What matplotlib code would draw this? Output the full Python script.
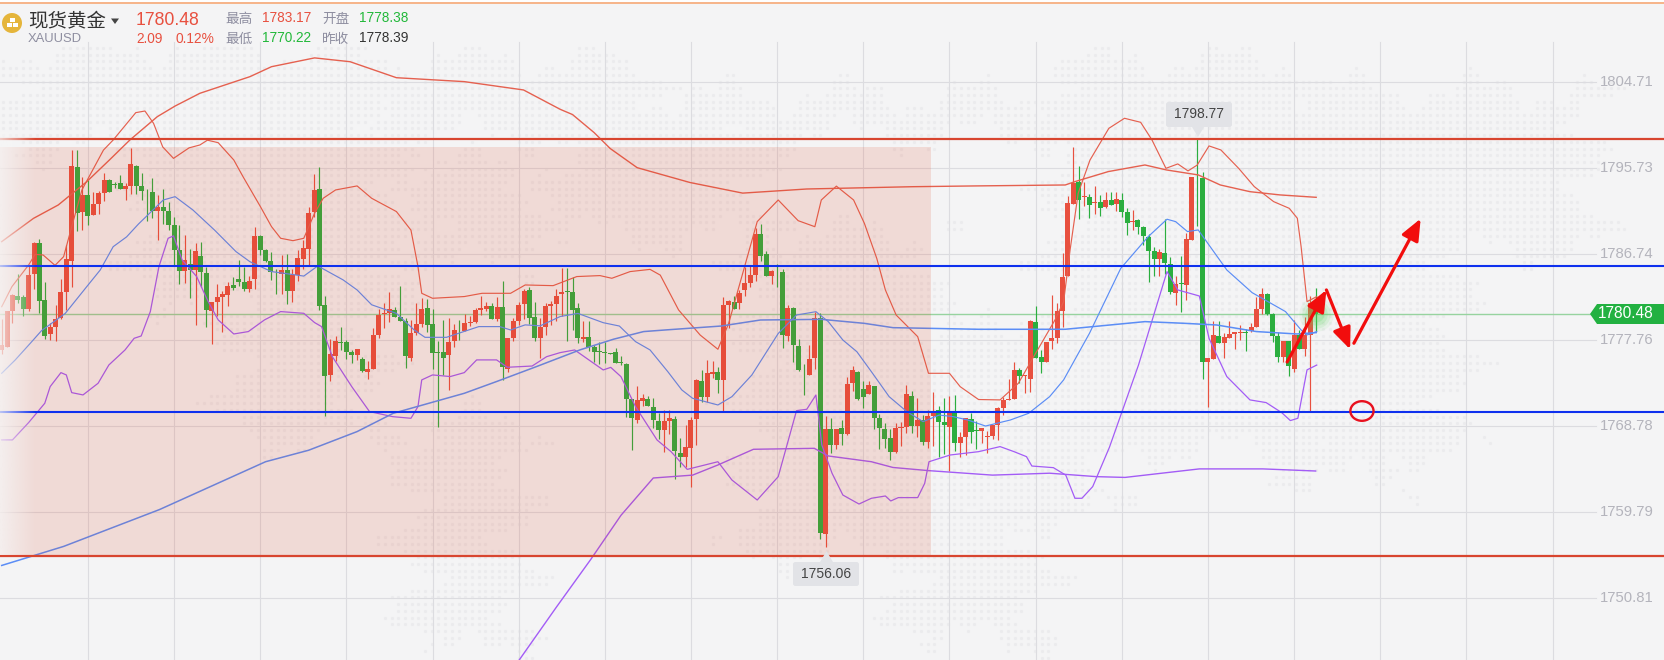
import numpy as np
import matplotlib
matplotlib.use('Agg')
import matplotlib.pyplot as plt
from matplotlib.patches import Ellipse, FancyArrowPatch, FancyBboxPatch, Polygon, Rectangle, Circle
from matplotlib.transforms import blended_transform_factory

plt.rcParams['font.family'] = ['Liberation Sans', 'Noto Sans CJK SC', 'DejaVu Sans']

# candles
opens = [
    1776.68,1777.0,1780.75,1782.28,1782.2,1780.96,1784.65,1787.86,1781.9,1778.35,
    1779.08,1780.0,1782.74,1786.0,1795.8,1791.1,1792.87,1790.8,1791.9,1793.08,
    1794.44,1794.0,1794.13,1793.5,1793.8,1795.9,1793.8,1793.3,1793.2,1791.2,
    1791.6,1791.2,1789.74,1787.13,1784.93,1785.66,1785.04,1786.5,1784.72,1780.75,
    1781.69,1782.2,1782.42,1783.47,1784.1,1783.78,1783.05,1784.1,1788.59,1787.13,
    1785.98,1784.87,1784.62,1785.04,1782.84,1784.5,1786.19,1787.23,1791.1,1793.5,
    1781.38,1774.06,1776.06,1777.5,1777.52,1776.48,1776.16,1775.75,1774.39,1774.7,
    1778.25,1780.48,1780.55,1780.87,1780.13,1779.72,1775.85,1778.46,1779.4,1781.07,
    1779.4,1776.48,1776.48,1776.16,1777.63,1778.78,1778.67,1779.54,1779.61,1780.87,
    1780.97,1781.28,1779.93,1781.18,1774.7,1777.94,1779.72,1781.49,1782.96,1780.13,
    1777.94,1779.09,1781.28,1781.49,1782.54,1782.85,1782.75,1781.07,1777.84,1778.04,
    1777.0,1776.58,1776.48,1776.33,1776.48,1775.4,1775.22,1771.57,1769.37,1771.36,
    1771.57,1770.73,1769.27,1768.33,1769.27,1769.48,1765.92,1765.5,1766.45,1769.48,
    1773.45,1771.77,1774.18,1774.39,1773.55,1781.39,1781.7,1781.6,1782.96,1783.69,
    1784.52,1788.81,1786.72,1784.42,1785.08,1784.84,1778.15,1781.07,1777.1,1774.53,
    1774.07,1775.85,1780.03,1757.45,1768.43,1766.75,1768.53,1767.9,1773.23,1774.38,
    1772.6,1772.08,1772.92,1769.57,1768.43,1767.48,1766.02,1768.53,1768.63,1771.87,
    1768.74,1769.37,1767.07,1769.78,1770.41,1769.16,1768.63,1770.1,1766.96,1767.59,
    1769.47,1768.32,1768.22,1767.62,1767.69,1768.84,1770.62,1771.49,1771.56,1774.59,
    1774.0,1773.65,1779.61,1775.95,1775.43,1777.62,1777.94,1780.76,1784.41,1791.94,
    1794.24,1792.67,1792.67,1792.0,1792.15,1791.62,1792.36,1791.94,1792.36,1791.1,
    1790.06,1790.27,1789.53,1788.49,1787.03,1786.19,1786.82,1785.67,1782.64,1783.68,
    1783.47,1788.18,1794.69,1794.65,1775.43,1775.74,1778.15,1777.41,1777.94,1778.39,
    1778.49,1778.56,1778.67,1779.08,1780.97,1782.53,1780.44,1778.15,1775.95,1777.62,
    1774.7,1778.25,1776.79,1778.25,1781.28]
highs = [
    1779.9,1780.75,1782.5,1784.6,1782.4,1785.6,1788.0,1788.3,1783.8,1779.5,
    1781.4,1784.1,1787.65,1797.6,1797.6,1794.75,1794.4,1793.2,1793.3,1795.2,
    1794.5,1794.27,1794.96,1794.13,1797.8,1796.0,1795.2,1793.5,1794.65,1792.9,
    1793.5,1792.14,1790.57,1789.74,1788.69,1787.23,1787.86,1787.96,1785.4,1781.69,
    1783.57,1782.84,1783.78,1784.3,1786.08,1785.3,1784.4,1789.53,1788.69,1787.23,
    1786.88,1785.14,1786.6,1786.71,1785.14,1787.13,1788.17,1791.62,1795.07,1795.8,
    1782.3,1777.83,1778.15,1779.09,1777.73,1776.69,1776.79,1775.95,1775.54,1778.98,
    1780.97,1781.6,1782.75,1781.18,1783.37,1780.03,1779.8,1781.6,1782.12,1782.0,
    1780.97,1777.63,1779.82,1780.03,1779.4,1779.82,1780.45,1780.24,1781.07,1782.33,
    1781.7,1781.6,1782.22,1783.9,1777.94,1780.03,1781.7,1783.06,1783.27,1781.7,
    1780.03,1781.6,1781.8,1783.06,1785.25,1785.25,1784.31,1781.6,1779.72,1779.72,
    1777.2,1777.52,1777.52,1776.33,1776.9,1776.06,1775.33,1771.57,1772.92,1772.09,
    1771.88,1771.67,1770.1,1770.4,1770.4,1769.79,1767.5,1768.85,1769.69,1773.66,
    1774.6,1775.64,1775.54,1774.91,1782.23,1781.91,1782.33,1782.96,1785.36,1785.46,
    1789.43,1789.85,1787.03,1785.05,1785.67,1785.15,1781.39,1781.18,1777.83,1775.22,
    1777.21,1780.66,1780.5,1769.78,1769.57,1768.43,1769.37,1773.86,1775.0,1774.5,
    1773.44,1773.44,1772.92,1770.0,1769.05,1768.43,1769.05,1769.16,1773.02,1772.4,
    1771.66,1769.89,1770.4,1772.32,1770.83,1771.66,1771.87,1771.98,1768.11,1769.57,
    1770.1,1769.26,1768.53,1768.22,1768.84,1770.76,1771.8,1773.65,1775.43,1774.8,
    1774.1,1779.82,1781.28,1776.68,1777.52,1782.43,1781.56,1786.82,1792.77,1797.86,
    1795.91,1794.24,1792.98,1793.82,1792.88,1793.19,1793.19,1793.19,1793.09,1791.52,
    1791.31,1790.37,1789.64,1788.8,1787.48,1787.23,1790.37,1786.36,1784.41,1786.5,
    1788.91,1794.76,1798.77,1795.28,1775.85,1779.71,1779.71,1778.46,1779.71,1778.56,
    1779.29,1778.88,1779.5,1782.22,1783.16,1782.64,1780.55,1778.56,1777.62,1777.62,
    1779.82,1778.77,1780.16,1782.36,1783.17]
lows = [
    1776.3,1777.0,1779.5,1781.6,1780.2,1780.7,1783.1,1780.5,1777.8,1777.7,
    1777.6,1779.9,1780.9,1783.3,1789.1,1789.2,1789.7,1790.8,1790.9,1792.25,
    1793.2,1793.57,1793.5,1792.35,1793.0,1793.0,1792.35,1790.2,1790.5,1788.2,
    1789.85,1789.2,1785.56,1783.57,1783.68,1782.1,1779.29,1783.26,1779.1,1777.3,
    1780.23,1778.56,1781.27,1782.95,1783.36,1782.84,1782.74,1783.05,1786.6,1785.87,
    1783.99,1782.53,1782.53,1781.48,1781.69,1783.89,1785.14,1785.45,1790.57,1780.86,
    1769.78,1773.44,1775.54,1776.69,1775.75,1775.33,1775.64,1774.39,1773.66,1774.7,
    1777.94,1778.98,1779.61,1780.13,1779.72,1774.8,1775.54,1778.25,1779.09,1778.57,
    1774.7,1768.67,1774.07,1772.5,1777.0,1777.73,1778.67,1779.2,1779.51,1780.34,
    1780.76,1779.93,1779.72,1773.55,1774.39,1777.63,1779.3,1779.93,1779.4,1777.63,
    1775.85,1778.25,1779.3,1779.72,1780.24,1777.63,1778.78,1777.42,1777.52,1776.58,
    1775.43,1775.22,1775.33,1776.26,1775.33,1775.12,1769.68,1766.24,1769.06,1770.83,
    1770.83,1768.53,1767.4,1766.06,1767.91,1763.2,1764.5,1764.5,1762.4,1766.76,
    1771.25,1771.25,1773.76,1772.19,1770.31,1778.98,1780.97,1780.97,1782.33,1783.27,
    1783.9,1785.99,1784.42,1783.58,1783.27,1776.9,1777.63,1775.43,1774.49,1771.98,
    1774.07,1774.7,1756.93,1756.06,1765.92,1766.34,1766.75,1767.8,1772.4,1771.46,
    1770.62,1772.08,1768.43,1766.34,1766.44,1765.19,1765.92,1766.65,1768.0,1768.0,
    1767.59,1766.75,1766.44,1766.6,1765.46,1765.81,1764.04,1766.13,1765.5,1765.71,
    1766.96,1766.3,1766.93,1765.88,1767.35,1767.28,1769.9,1771.49,1771.56,1773.2,
    1772.22,1772.33,1775.85,1774.31,1775.43,1776.79,1777.38,1779.12,1784.41,1791.94,
    1790.37,1791.73,1790.47,1790.89,1790.68,1791.52,1791.83,1791.2,1790.58,1788.7,
    1789.22,1788.8,1787.65,1783.82,1784.41,1784.41,1784.62,1782.53,1781.38,1780.65,
    1781.9,1788.18,1789.64,1773.65,1770.76,1775.74,1777.41,1775.85,1777.94,1776.79,
    1777.73,1776.58,1778.56,1779.08,1780.44,1780.34,1777.52,1775.43,1775.43,1773.96,
    1774.38,1776.79,1776.05,1770.31,1778.6]
closes = [
    1777.2,1780.75,1782.4,1781.9,1780.96,1784.5,1787.86,1781.8,1778.1,1779.08,
    1779.9,1782.74,1786.2,1795.9,1791.0,1792.87,1790.7,1791.9,1793.08,1794.44,
    1793.2,1793.95,1793.5,1793.8,1796.1,1793.8,1793.3,1793.25,1791.2,1791.6,
    1791.2,1789.74,1787.13,1784.93,1786.08,1785.04,1787.02,1784.83,1780.86,1781.69,
    1782.2,1782.53,1783.36,1783.15,1783.78,1783.05,1783.89,1788.59,1787.13,1785.98,
    1784.83,1784.8,1785.04,1782.84,1784.5,1786.29,1787.34,1790.99,1793.4,1781.27,
    1773.96,1776.26,1777.63,1777.45,1776.48,1776.16,1776.79,1774.49,1774.7,1778.25,
    1780.34,1780.59,1780.97,1780.13,1779.72,1776.06,1778.46,1779.4,1780.97,1779.3,
    1776.37,1776.41,1775.85,1777.52,1778.78,1778.72,1779.51,1779.61,1780.87,1781.07,
    1781.28,1779.93,1781.18,1774.91,1777.94,1779.72,1781.39,1782.85,1780.03,1777.94,
    1779.09,1781.28,1781.49,1782.33,1782.75,1782.78,1780.87,1777.94,1778.04,1777.0,
    1776.48,1776.51,1776.41,1776.26,1775.33,1775.33,1771.57,1769.58,1771.46,1771.67,
    1770.83,1769.37,1768.33,1769.27,1769.58,1766.13,1765.5,1766.55,1769.37,1773.55,
    1771.77,1774.28,1774.39,1773.55,1781.39,1781.81,1780.97,1782.64,1783.69,1784.52,
    1788.81,1786.51,1784.42,1784.94,1785.01,1778.25,1781.07,1777.21,1774.6,1774.46,
    1775.75,1780.03,1757.56,1768.43,1766.75,1768.43,1767.9,1773.13,1774.59,1771.56,
    1771.77,1773.02,1769.57,1768.53,1767.38,1766.02,1768.53,1768.63,1772.08,1768.74,
    1769.37,1767.07,1769.78,1770.17,1769.16,1768.84,1770.1,1766.96,1767.59,1769.57,
    1768.11,1768.25,1768.53,1767.73,1768.84,1770.62,1771.46,1771.6,1774.59,1773.96,
    1774.1,1779.71,1775.85,1775.43,1777.52,1777.94,1780.76,1784.31,1792.04,1794.13,
    1792.36,1792.77,1791.83,1792.11,1791.52,1792.36,1791.83,1792.46,1791.1,1789.95,
    1790.16,1789.53,1788.59,1787.03,1786.19,1786.92,1785.77,1782.74,1783.58,1783.61,
    1788.28,1794.76,1794.6,1775.43,1775.85,1778.25,1777.41,1778.04,1778.35,1778.56,
    1778.56,1778.46,1779.08,1780.97,1782.53,1780.44,1778.15,1775.95,1777.62,1775.01,
    1778.25,1776.79,1778.25,1781.59,1780.48]

# fast bands (index of the candle, price)
fu_idx = [0,1.9,5,6.2,7.7,9.9,11.5,13,14.9,18.9,20.7,24.9,26.6,28.2,29.9,31.9,34.8,36.8,38.2,40.2,43.1,44.8,48.1,50.1,51.8,54.1,56.1,58.1,59.7,62,66,68.7,73.3,76,77.3,78,80,85.9,89.2,94.5,97.2,102.4,106.8,111.1,113.3,116.7,120.4,122.3,125.7,129.7,133,135,140.3,144.2,147.9,151,152.2,155,158.2,160.2,162.5,164.1,166.1,170.1,172.1,176,178,181.4,185.4,188.8,192,195.6,197.2,198.4,199.9,202.1,205.6,208.5,211.5,213.6,216.2,218.4,220.3,222,224.2,226.4,229.7,232.6,236.2,239.1,240.6,241.3,242.4,244.2]
fu_val = [1781.2,1783.3,1785.56,1786.67,1786.6,1785.52,1786.43,1789.56,1793.4,1797.57,1798.62,1801.48,1801.65,1800.36,1797.9,1796.7,1797.8,1798.1,1798.6,1798.34,1796.53,1794.8,1791.6,1789.57,1788.35,1788.1,1788.35,1790.96,1792.53,1793.4,1793.82,1792.53,1791.14,1789.2,1785.4,1782.6,1782.08,1782.26,1782.6,1782.6,1783.47,1783.4,1784.35,1784.45,1784.17,1784.87,1785.1,1784.5,1780.86,1778.24,1776.75,1779.46,1790.09,1792.35,1790.19,1789.56,1792.35,1793.8,1792.35,1789.91,1786.25,1782.95,1780.33,1778.07,1774.24,1774.24,1772.84,1771.5,1771.46,1773.2,1776.33,1779.82,1781.73,1787.13,1793.05,1796.53,1799.84,1800.89,1800.47,1798.63,1795.66,1796.12,1795.39,1796.0,1798.0,1797.58,1795.66,1793.75,1792.18,1791.48,1790.44,1787.48,1781.73,1782.25]
fm_idx = [0,2.5,5.3,7.4,11.8,15.8,18.3,20.7,23.2,25.4,30,32.2,35.5,39.5,43.5,46.1,50.1,56.1,58.7,63.4,66,68.7,73.3,76.6,78.6,82.6,88.6,92.5,94.5,97.2,100,103.7,107,111.7,114.7,117.7,120.4,123.7,126.3,128.3,133,135.6,139.3,144.2,147.6,151.2,153.5,156.2,158.8,161.5,164.8,168.1,171.1,174.1,176.7,179.4,182.7,187.3,190.7,194.6,197.2,202,207.8,212.9,216.4,218,220.2,222.2,227.5,232.2,238.4,241.3,242.4,244.2]
fm_val = [1774.24,1775.63,1777.37,1778.7,1780.5,1783.3,1785.04,1787.47,1788.5,1789.84,1792.35,1792.7,1791.31,1789.22,1786.96,1785.9,1784.87,1784.4,1785.46,1784,1782.95,1781.4,1780.5,1778.77,1778,1778,1779.12,1779.12,1778.77,1779.3,1779.2,1780.17,1780.5,1779.53,1779.18,1777.55,1776.68,1774.41,1772.5,1771.63,1770.93,1771.8,1774.06,1778.4,1780.33,1780.68,1779.64,1777.72,1776.5,1774.41,1771.8,1770.23,1769.19,1769.88,1769.71,1769.36,1768.73,1769.36,1770.06,1771.8,1773.55,1778.42,1785.2,1788.52,1790.34,1790.09,1789.05,1789.22,1785.04,1782.67,1780.69,1778.77,1778.25,1778.6]
fl_idx = [0,2,5,8,9,11,12,13,15.1,17.9,19.9,22.9,24.6,25.9,27.6,29.2,30.9,31.9,33.5,36.2,38.2,40.2,43.1,45.8,48.8,51.8,56.1,58.1,59.4,61.4,65,68.3,72.6,76,77.3,78,80,83.3,85.9,88.2,91.9,93.9,98.5,101.2,103.7,106.4,111.7,113.1,115,117.7,121.7,124.3,127.3,133,135.6,140.3,144.2,147.6,149.5,151.2,152.3,154.2,156.2,159.2,161.5,164.1,165.1,166.5,170.1,171.4,172.2,176.1,181.4,185.4,188,190.3,191.3,195.3,197.6,199.3,200.6,202.6,205.7,211.1,216.4,218.4,222.4,224.2,227.5,231.8,234.8,237.7,239.3,240.7,242.4,244.2]
fl_val = [1767.28,1767.28,1769.09,1771.11,1772.85,1774.31,1774.07,1772.22,1771.98,1773.2,1775.11,1776.68,1777.9,1778.14,1780.69,1785.39,1788.35,1788.6,1786.09,1784.35,1781.9,1779.82,1778.35,1778.6,1779.82,1780.69,1780.51,1779.54,1779.12,1775.98,1772.85,1770.24,1769.71,1769.54,1770.76,1773.55,1774.07,1773.9,1774.31,1775.64,1775.64,1774.87,1775,1775.98,1776.4,1776.68,1774.59,1774.86,1773.89,1770.76,1767.27,1766.05,1764.2,1765,1763.09,1761,1763.44,1770.34,1770.48,1771.97,1766.75,1763.79,1761.52,1760.58,1761.18,1761.42,1760.9,1761.25,1761.25,1762.74,1765,1765.7,1766.05,1766.58,1766.05,1765.53,1764.55,1764.38,1763.6,1761.18,1761.18,1762.4,1766.5,1775.1,1784.87,1782.95,1782.32,1777.9,1773.9,1771.46,1771.18,1770.13,1769.3,1769.54,1774.6,1775.1]

# slow bands
su_idx = [0,5.9,10.5,15.8,20,23.8,28.9,32.2,36.8,46.1,50.1,58.1,64.7,73.3,85.9,96.9,103.7,106,110,113,118,127.8,137.6,149.5,169.2,180.7,197.5,199.3,205.5,212.3,216.3,222.2,226.3,231.8,237.4,244.1]
su_val = [1788.0,1790.43,1791.83,1794.27,1796.53,1798.62,1801.06,1802.17,1803.5,1805.24,1806.28,1807.2,1806.8,1805.13,1804.72,1803.85,1801.83,1801.28,1799.4,1797.73,1795.73,1794.18,1793.07,1793.5,1793.74,1793.82,1793.92,1794.27,1795.32,1796.01,1795.49,1794.97,1793.92,1793.22,1792.88,1792.63]
sm_idx = [0,11.5,29.3,49,57,66,72.7,85.9,91.9,99.3,107.4,113.6,119.2,123.5,133.6,140.9,152.2,160.2,165.5,181.4,197.5,212.3,219.4,225.6,233,240.5,244.1]
sm_val = [1754.16,1756.15,1760.0,1765.0,1766.2,1768.15,1770.06,1772.15,1773.38,1774.94,1776.69,1777.8,1778.6,1778.78,1779.18,1779.81,1779.88,1779.46,1779.01,1778.84,1778.84,1779.64,1779.47,1779.29,1778.6,1778.35,1778.49]
sl_idx = [96,103,109.4,115,121,128.3,133,139.6,150.9,153.5,161.5,165.5,172.1,184,194.6,203.3,208.6,222.4,234.2,244]
sl_val = [1744.2,1749.8,1754.8,1759.4,1763.3,1763.6,1764.66,1766.3,1766.4,1765.6,1765,1764.4,1764.07,1763.6,1763.8,1763.44,1763.36,1764.25,1764.25,1764.03]

# hand drawn levels and arrows
red_levels = [1798.73, 1755.1]
blue_levels = [1785.45, 1770.2]
last_price = 1780.48
arrow_idx = [(238.7, 246.0), (246.0, 250.4), (251.1, 263.5)]
arrow_val = [(1775.42, 1782.95), (1782.95, 1776.75), (1777.38, 1790.4)]

tick_vals = [1804.71, 1795.73, 1786.74, 1777.76, 1768.78, 1759.79, 1750.81]
tick_labels = ['1804.71', '1795.73', '1786.74', '1777.76', '1768.78', '1759.79', '1750.81']
grid_idx = list(range(16, 289, 16))

RED = '#E8503F'
GREEN = '#2BAE3F'
GRID = '#DCDCE0'
BG = '#F4F4F5'

fig = plt.figure(figsize=(16.64, 6.6), dpi=100, facecolor=BG)

def full_axes(z):
    a = fig.add_axes([0, 0, 1, 1], zorder=z)
    a.axis('off')
    a.patch.set_alpha(0)
    return a

# pixel layer below: the dotted map, edges wobble so it looks less boxy
ax_bg = full_axes(0)
ax_bg.set_xlim(0, 1664)
ax_bg.set_ylim(660, 0)
map_boxes = [(0, 390, 48, 150), (395, 520, 60, 135), (140, 400, 150, 300), (232, 375, 300, 440),
             (420, 535, 163, 263), (520, 640, 60, 135), (640, 1120, 95, 135), (560, 760, 135, 235),
             (1050, 1590, 90, 250), (1050, 1460, 250, 450), (746, 930, 233, 553), (930, 1107, 330, 517),
             (410, 520, 420, 650), (900, 1040, 520, 640), (1290, 1410, 410, 480), (1040, 1300, 60, 90)]
gx, gy = np.meshgrid(np.arange(3, 1664, 6.7), np.arange(48, 660, 6.7))
wob_x = 26 * np.sin(gy * 0.09) + 14 * np.sin(gy * 0.23)
wob_y = 16 * np.sin(gx * 0.05) + 9 * np.sin(gx * 0.17)
keep = np.zeros(gx.shape, dtype=bool)
for x0, x1, y0, y1 in map_boxes:
    keep |= (gx >= x0 + wob_x) & (gx <= x1 + wob_x) & (gy >= y0 + wob_y) & (gy <= y1 + wob_y)
ax_bg.scatter(gx[keep], gy[keep], s=5.5, color='#EBEBED', linewidths=0)
ax_bg.plot([0, 1664], [2.7, 2.7], color='#F7A36B', lw=1.1)
ax_bg.add_patch(Rectangle((0, 0), 1664, 2.2, color='#FEFEFE', lw=0))

# price layer
ax = full_axes(1)
ax.set_xlim(-0.316, 308.69)
ax.set_ylim(1744.28, 1813.25)
for g in grid_idx:
    ax.axvline(g, ymin=0, ymax=1 - 42 / 660, color=GRID, lw=0.8, zorder=1)
for t in tick_vals:
    ax.axhline(t, xmin=0, xmax=1596 / 1664, color=GRID, lw=0.8, zorder=1)
trans = blended_transform_factory(ax.transAxes, ax.transData)
for t, lab in zip(tick_vals, tick_labels):
    ax.text(1600 / 1664, t, lab, transform=trans, color='#B4B4BC', fontsize=10.7, va='center', ha='left')
ax.axhline(last_price, xmin=0, xmax=1592 / 1664, color='#97D39F', lw=1, zorder=2)

idx = np.arange(len(opens))
o = np.array(opens)
h = np.array(highs)
l = np.array(lows)
c = np.array(closes)
up = c >= o
colors = np.where(up, RED, GREEN)
ax.vlines(idx, l, h, colors=colors, lw=0.85, zorder=3)
body = np.maximum(np.abs(c - o), 0.07)
ax.bar(idx, body, bottom=np.minimum(o, c), width=0.93, color=colors, lw=0, zorder=3)

# glow on the live candle
for r, a in zip([620, 420, 260, 130], [0.08, 0.12, 0.16, 0.2]):
    ax.scatter([idx[-1]], [last_price], s=r, color='#5CD65C', alpha=a, linewidths=0, zorder=4)

ax.plot(fu_idx, fu_val, color='#E5604F', lw=0.85, zorder=5)
ax.plot(fm_idx, fm_val, color='#5B8DF6', lw=0.85, zorder=5)
ax.plot(fl_idx, fl_val, color='#A35CF6', lw=0.9, zorder=5)
ax.plot(su_idx, su_val, color='#E5604F', lw=1, zorder=5)
ax.plot(sm_idx, sm_val, color='#5B8DF6', lw=1.1, zorder=5)
ax.plot(sl_idx, sl_val, color='#A35CF6', lw=1, zorder=5)

# pink box sits over the candles
ax.add_patch(Rectangle((-0.316, 1755.3), 172.9, 1797.9 - 1755.3, facecolor=(221 / 255, 64 / 255, 29 / 255, 0.14),
                       lw=0, zorder=6))
for v in red_levels:
    ax.axhline(v, color='#D8452F', lw=1.6, zorder=7)
for v in blue_levels:
    ax.axhline(v, color='#0E30EE', lw=1.5, zorder=7)

for (xa, xb), (ya, yb) in zip(arrow_idx, arrow_val):
    ax.add_patch(FancyArrowPatch((xa, ya), (xb, yb), arrowstyle='-|>,head_length=13,head_width=5.5',
                                 mutation_scale=1, color='#F20D0D', lw=2.3, shrinkA=0, shrinkB=0, zorder=8))
ax.add_patch(Ellipse((252.6, 1770.3), 4.3, 2.05, fill=False, edgecolor='#E8101E', lw=1.7, zorder=8))

# pixel layer on top: header, callouts, left fade
ax_top = full_axes(2)
ax_top.set_xlim(0, 1664)
ax_top.set_ylim(660, 0)

fade = np.zeros((1, 64, 4))
fade[..., :3] = matplotlib.colors.to_rgb('#F6F6F6')
fade[..., 3] = np.linspace(0.75, 0, 64)
ax_top.imshow(fade, extent=(0, 36, 555, 132), aspect='auto', zorder=1, interpolation='bilinear')
ax_top.set_xlim(0, 1664)
ax_top.set_ylim(660, 0)

ax_top.add_patch(Circle((12, 23), 10, color='#E5B53B', lw=0, zorder=3))
ax_top.add_patch(Rectangle((9.5, 18), 5, 3.5, color='white', lw=0, zorder=4))
ax_top.add_patch(Rectangle((6.5, 23), 5, 3.5, color='white', lw=0, zorder=4))
ax_top.add_patch(Rectangle((12.5, 23), 5, 3.5, color='white', lw=0, zorder=4))
ax_top.text(28, 21, '现货黄金', fontsize=14, color='#333333', va='center', zorder=4)
ax_top.add_patch(Polygon([(111, 18.5), (119, 18.5), (115, 24)], color='#444444', lw=0, zorder=4))
ax_top.text(28, 39, 'XAUUSD', fontsize=9.4, color='#8E8EA0', va='center', zorder=4)
ax_top.text(136, 20.5, '1780.48', fontsize=12.7, color=RED, va='center', zorder=4)
ax_top.text(136, 39, '2.09', fontsize=9.8, color=RED, va='center', zorder=4)
ax_top.text(175, 39, '0.12%', fontsize=9.9, color=RED, va='center', zorder=4)
ax_top.text(225, 18.5, '最高', fontsize=9.8, color='#8E8EA0', va='center', zorder=4)
ax_top.text(262, 18.5, '1783.17', fontsize=9.8, color=RED, va='center', zorder=4)
ax_top.text(322, 18.5, '开盘', fontsize=9.8, color='#8E8EA0', va='center', zorder=4)
ax_top.text(359, 18.5, '1778.38', fontsize=9.8, color='#22B83A', va='center', zorder=4)
ax_top.text(225, 38.5, '最低', fontsize=9.8, color='#8E8EA0', va='center', zorder=4)
ax_top.text(262, 38.5, '1770.22', fontsize=9.8, color='#22B83A', va='center', zorder=4)
ax_top.text(322, 38.5, '昨收', fontsize=9.8, color='#8E8EA0', va='center', zorder=4)
ax_top.text(359, 38.5, '1778.39', fontsize=9.8, color='#333333', va='center', zorder=4)

box_col = '#E2E3E7'
ax_top.add_patch(FancyBboxPatch((1166, 102), 66, 25, boxstyle='round,pad=0,rounding_size=2.5', color=box_col, lw=0, zorder=4))
ax_top.add_patch(Polygon([(1192, 127), (1204, 127), (1198, 137)], color=box_col, lw=0, zorder=4))
ax_top.text(1199, 114.5, '1798.77', fontsize=10, color='#444444', va='center', ha='center', zorder=5)
ax_top.add_patch(FancyBboxPatch((793, 562), 66, 24, boxstyle='round,pad=0,rounding_size=2.5', color=box_col, lw=0, zorder=4))
ax_top.add_patch(Polygon([(820, 562), (833, 562), (826.5, 551)], color=box_col, lw=0, zorder=4))
ax_top.text(826.5, 574, '1756.06', fontsize=10, color='#444444', va='center', ha='center', zorder=5)

ax_top.add_patch(Polygon([(1590, 314), (1597, 304), (1664, 304), (1664, 324), (1597, 324)], color='#22B141', lw=0, zorder=4))
ax_top.text(1626, 314, '1780.48', fontsize=11.2, color='white', va='center', ha='center', zorder=5)

fig.savefig('out.png', dpi=100, facecolor=BG)
